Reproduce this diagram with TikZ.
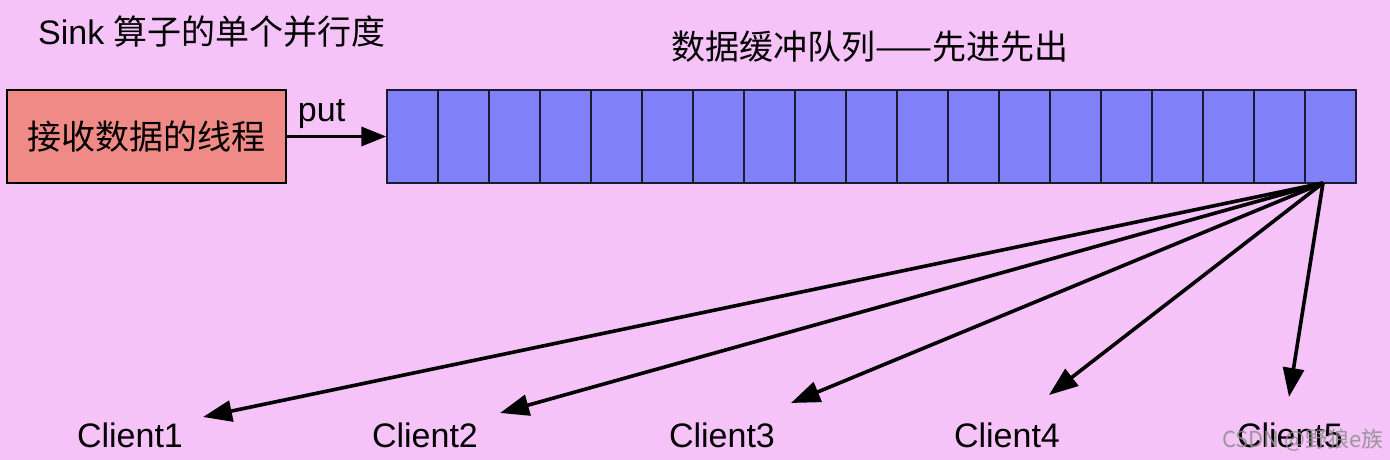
\documentclass[tikz,border=0pt]{standalone}
\usepackage{fontspec}
\setmainfont{Liberation Sans}
\newfontfamily\cjk{Noto Sans CJK SC}
\usepackage{tikz}
\usetikzlibrary{arrows.meta, positioning, calc}
\definecolor{sinkpink}{HTML}{F5C3F8}
\definecolor{sinkred}{HTML}{F08A86}
\definecolor{sinkblue}{HTML}{8080F8}
\definecolor{sinkline}{HTML}{1A1A30}

\begin{document}
\begin{tikzpicture}[x=1pt, y=-1pt,
    every node/.style={inner sep=0pt},
    txt/.style={font=\fontsize{34}{38}\selectfont},
    thread/.style={draw=black, line width=1.5pt, fill=sinkred,
      minimum width=279pt, minimum height=93pt},
    cell/.style={draw=sinkline, line width=1.5pt, fill=sinkblue,
      minimum width=51pt, minimum height=93pt},
    arr/.style={line width=3.6pt, -{Triangle[length=29pt, width=21pt]}}]
  \def\qx{387}
  \def\qy{136.5}
  \def\cw{51}
  \fill[sinkpink] (0,0) rectangle (1390,460);
  \useasboundingbox (0,0) rectangle (1390,460);
  % titles
  \node[txt, anchor=west] (sinktitle) at (38,32) {Sink {\cjk 算子的单个并行度}};
  \node[txt] (qtitle) at (870,47) {\cjk 数据缓冲队列——先进先出};
  % thread box
  \node[thread, txt] (recv) at (146.5,\qy) {\cjk 接收数据的线程};
  % queue cells
  \foreach \i in {0,...,18}
  {
    \pgfmathsetmacro{\xx}{\qx+\i*\cw+\cw/2}
    \node[cell] (c\i) at (\xx,\qy) {};
  }
  \draw[arr, -{Triangle[length=25pt, width=19pt]}] (recv.east) -- (c0.west)
    node[txt, pos=0.35, above=6pt] (put) {put};
  % clients
  \foreach \i/\x in {1/130, 2/425, 3/722, 4/1007, 5/1290}
    \node[txt] (cl\i) at (\x,435) {Client\i};
  \coordinate (fan) at (1323,183);
  \coordinate (tip1) at (203,417);
  \coordinate (tip2) at (500,413);
  \coordinate (tip3) at (791,403);
  \coordinate (tip4) at (1049,395);
  \coordinate (tip5) at (1289,397);
  \foreach \i in {1,...,5}
    \draw[arr] (fan) -- (tip\i);
  \node[font=\cjk\fontsize{22}{26}\selectfont, text=black!45, opacity=0.85]
    (mark) at (1303,440) {CSDN @野狼e族};
\end{tikzpicture}
\end{document}
